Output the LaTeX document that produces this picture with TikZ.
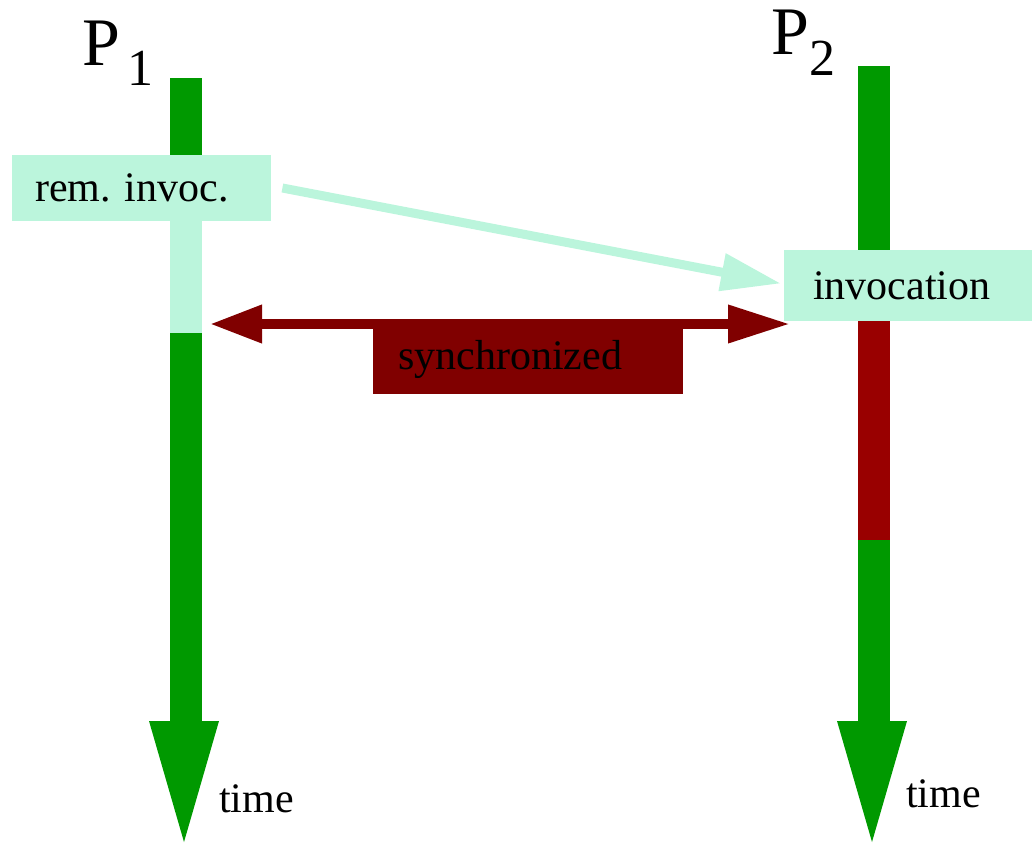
\documentclass[tikz,border=0pt]{standalone}
\usepackage{fontspec}
\setmainfont{Liberation Serif}
\usetikzlibrary{arrows.meta,calc}
\definecolor{pgreen}{RGB}{0,153,0}
\definecolor{plight}{RGB}{187,245,220}
\definecolor{pred}{RGB}{153,0,0}
\definecolor{pdark}{RGB}{128,0,0}
\frenchspacing
\tikzset{
  bar/.style={line width=32pt},
  arrowhead/.style={fill=pgreen},
  labelbox/.style={fill=plight, inner ysep=0pt, align=left, font=\fontsize{42}{48}\selectfont},
  proc/.style={font=\fontsize{68}{72}\selectfont, inner sep=0pt, anchor=base west},
  procsub/.style={font=\fontsize{52}{56}\selectfont, inner sep=0pt, anchor=base west},
  timelabel/.style={font=\fontsize{42}{48}\selectfont, inner sep=0pt, anchor=base west},
}
\begin{document}
\begin{tikzpicture}[x=1pt,y=-1pt]
\useasboundingbox (0,0) rectangle (1032,843);
% process 1 bar
\draw[bar,pgreen] (186,78) -- (186,156);
\draw[bar,plight] (186,220) -- (186,333);
\draw[bar,pgreen] (186,333) -- (186,722);
\fill[arrowhead] (149,721) -- (219,721) -- (184,842) -- cycle;
% process 2 bar
\draw[bar,pgreen] (874,66) -- (874,251);
\draw[bar,pred] (874,320) -- (874,540);
\draw[bar,pgreen] (874,540) -- (874,722);
\fill[arrowhead] (837,721) -- (907,721) -- (872,842) -- cycle;
% labels
\node[proc] (p1) at (82,65) {P};
\node[procsub] (p1s) at (127,85) {1};
\node[proc] (p2) at (771,55) {P};
\node[procsub] (p2s) at (809,75) {2};
\node[timelabel] (t1) at (219,812) {time};
\node[timelabel] (t2) at (906,807) {time};
% boxes
\node[labelbox, anchor=west, minimum height=66pt, inner xsep=23pt, text width=213pt] (rem) at (12,188) {rem. invoc.};
\node[labelbox, anchor=west, minimum height=71pt, inner xsep=29pt, text width=190pt] (inv) at (784,285.5) {invocation};
\node[labelbox, fill=pdark, text=black, anchor=west, minimum height=69pt, inner xsep=25pt, text width=260pt] (sync) at (373,359.5) {synchronized};
% connectors
\coordinate (a1) at ($(rem.east)+(11,0)$);
\coordinate (a2) at ($(inv.west)+(-3,-2)$);
\draw[plight, line width=9pt, -{Triangle[length=60pt,width=36pt]}] (a1) -- (a2);
\coordinate (b1) at (210,324);
\coordinate (b2) at ($(inv.west |- b1)+(6,0)$);
\draw[pdark, line width=10pt, {Triangle[length=52pt,width=36pt]}-{Triangle[length=62pt,width=36pt]}] (b1) -- (b2);
\end{tikzpicture}
\end{document}
